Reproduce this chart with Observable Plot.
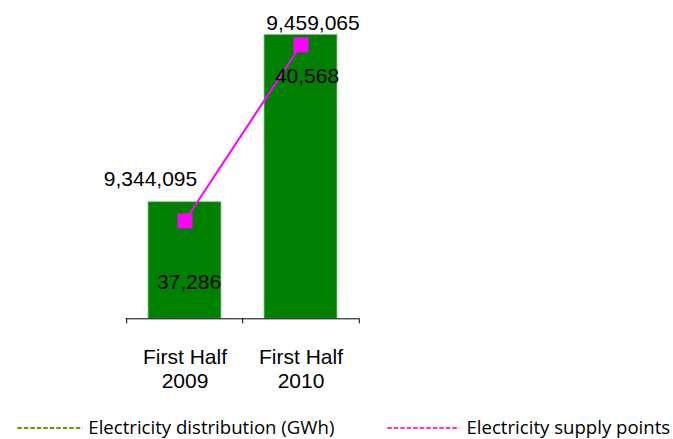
<!DOCTYPE html>
<html>
<head>
<meta charset="utf-8">
<script src="https://cdn.jsdelivr.net/npm/d3@7"></script>
<script src="https://cdn.jsdelivr.net/npm/@observablehq/plot@0.6"></script>
<style>
  html, body { margin: 0; padding: 0; background: #fff; }
  #wrap { position: relative; width: 673px; height: 439px; overflow: hidden; }
  #chart svg { display: block; }
  #legend { position: absolute; left: 0; top: 395px; }
</style>
</head>
<body>
<div id="wrap">
  <div id="chart"></div>
  <svg id="legend" width="673" height="44"></svg>
</div>
<script>
const categories = ["First Half\n2009", "First Half\n2010"];
const distribution = [37286, 40568];          // Electricity distribution (GWh)
const supplyPoints = [9344095, 9459065];      // Electricity supply points
const distDomain = [35000, 41000];
const supplyDomain = [9280000, 9480000];
const seriesNames = ["Electricity distribution (GWh)", "Electricity supply points"];

const rows = categories.map((c, i) => ({cat: c, dist: distribution[i], supply: supplyPoints[i]}));
const fmt = d3.format(",");
const toPrimary = v => distDomain[0] + (v - supplyDomain[0]) / (supplyDomain[1] - supplyDomain[0]) * (distDomain[1] - distDomain[0]);

const W = 673, H = 395, ML = 125.7, MR = 314, MT = 12.3, MB = 76.7;
const step = (W - ML - MR) / categories.length;
const green = "#008000", magenta = "#ff00ff";
const font = "'Liberation Sans', Arial, sans-serif";

const chart = Plot.plot({
  width: W, height: H,
  marginLeft: ML, marginRight: MR, marginTop: MT, marginBottom: MB,
  style: {fontFamily: font, fontSize: "21px", background: "#fff"},
  x: {domain: categories, paddingInner: 0.374, paddingOuter: 0.187, label: null},
  y: {domain: distDomain, axis: null},
  marks: [
    Plot.barY(rows, {x: "cat", y1: distDomain[0], y2: "dist", fill: green, stroke: "#8fc88f", strokeWidth: 0.8}),
    Plot.ruleY([distDomain[0]], {stroke: "#000", strokeWidth: 1}),
    Plot.ruleX(categories, {x: d => d, y1: distDomain[0], y2: distDomain[0], insetBottom: -5, dx: -step / 2, stroke: "#000"}),
    Plot.ruleX(categories.slice(-1), {x: d => d, y1: distDomain[0], y2: distDomain[0], insetBottom: -5, dx: step / 2, stroke: "#000"}),
    Plot.axisX({tickSize: 0, tickPadding: 27.8, lineHeight: 1.14, fontSize: 21, fill: "#000", label: null}),
    Plot.line(rows, {x: "cat", y: d => toPrimary(d.supply), stroke: magenta, strokeWidth: 2}),
    Plot.dot(rows, {x: "cat", y: d => toPrimary(d.supply), symbol: "square", r: 8.46, fill: magenta, stroke: "none"}),
    Plot.text(rows, {filter: (d, i) => i === 0, x: "cat", y: d => toPrimary(d.supply), text: d => fmt(d.supply), lineAnchor: "bottom", dx: -34.5, dy: -35, fontSize: 21, fill: "#000"}),
    Plot.text(rows, {filter: (d, i) => i === 1, x: "cat", y: d => toPrimary(d.supply), text: d => fmt(d.supply), lineAnchor: "bottom", dx: 12, dy: -15, fontSize: 21, fill: "#000"}),
    Plot.text(rows, {filter: (d, i) => i === 0, x: "cat", y: "dist", text: d => fmt(d.dist), lineAnchor: "bottom", dx: 4, dy: 86.6, fontSize: 21, fill: "#000"}),
    Plot.text(rows, {filter: (d, i) => i === 1, x: "cat", y: "dist", text: d => fmt(d.dist), lineAnchor: "bottom", dx: 6, dy: 48, fontSize: 21, fill: "#000"})
  ]
});
document.getElementById("chart").appendChild(chart);

// Legend (below the plot's SVG)
const leg = d3.select("#legend");
const items = [
  {name: seriesNames[0], color: "#669900", x1: 17.3, x2: 82.7, tx: 88.3},
  {name: seriesNames[1], color: "#ff33cc", x1: 387.3, x2: 459.3, tx: 466.5}
];
for (const it of items) {
  leg.append("line").attr("x1", it.x1).attr("x2", it.x2).attr("y1", 33).attr("y2", 33)
    .attr("stroke", it.color).attr("stroke-width", 2).attr("stroke-dasharray", "4.5,2");
  leg.append("text").attr("x", it.tx).attr("y", 38.5).attr("font-family", "'Open Sans', sans-serif")
    .attr("font-size", 18.6).attr("fill", "#000").text(it.name);
}
</script>
</body>
</html>
